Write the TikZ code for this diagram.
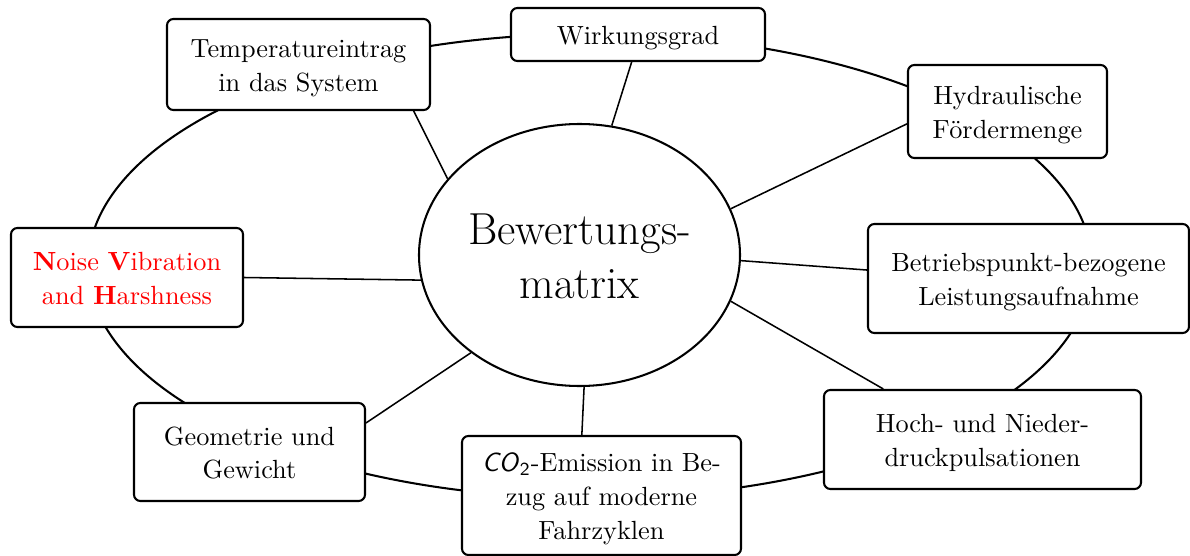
\documentclass[tikz,border=0pt]{standalone}
\usetikzlibrary{shapes.geometric}
\newcommand\boxtext[1]{\raisebox{-1.3pt}[\height][\depth]{\begin{tabular}{@{}c@{}}#1\end{tabular}}}
\begin{document}
\begin{tikzpicture}[x=0.39pt,y=-0.39pt,
  box/.style={draw, line width=0.8pt, rounded corners=2.5pt, fill=white, align=center, inner sep=0pt, font=\fontsize{10.25}{13.1}\selectfont},
  link/.style={line width=0.6pt},
  ring/.style={line width=0.8pt}]
\useasboundingbox (0,0) rectangle (1190,556);
\draw[ring] (590,266) ellipse [x radius=502, y radius=232];
\node[ellipse, draw, line width=0.8pt, fill=white, minimum width=125.19pt, minimum height=102.18pt, inner sep=0pt, font=\fontsize{17.5}{20.7}\selectfont] (M) at (579.5,255) {\raisebox{-2.3pt}[\height][\depth]{\begin{tabular}{@{}c@{}}Bewertungs-\\matrix\end{tabular}}};
\node[box, minimum width=102.57pt, minimum height=35.49pt] (T) at (298.5,64.5) {\boxtext{Temperatureintrag\\in das System}};
\node[box, minimum width=99.06pt, minimum height=20.67pt] (W) at (638,34.5) {\boxtext{Wirkungsgrad}};
\node[box, minimum width=77.61pt, minimum height=36.27pt] (H) at (1007.5,111.5) {\boxtext{Hydraulische\\F\"ordermenge}};
\node[box, minimum width=125.19pt, minimum height=42.51pt] (B) at (1028.5,278.5) {\boxtext{Betriebspunkt-bezogene\\Leistungsaufnahme}};
\node[box, minimum width=123.63pt, minimum height=38.61pt] (Ho) at (982.5,439.5) {\boxtext{Hoch- und Nieder-\\druckpulsationen}};
\node[box, minimum width=108.81pt, minimum height=46.41pt] (C) at (601.5,495.5) {\boxtext{\textsf{\textit{CO}}\textsubscript{\textsf{2}}-Emission in Be-\\zug auf moderne\\Fahrzyklen}};
\node[box, minimum width=90.09pt, minimum height=38.22pt] (G) at (249.5,452) {\boxtext{Geometrie und\\Gewicht}};
\node[box, minimum width=90.48pt, minimum height=38.61pt, text=red] (N) at (127,277.5) {\boxtext{\textbf{N}oise \textbf{V}ibration\\and \textbf{H}arshness}};
\draw[link] (M.150.5) -- (T.-22.8);
\draw[link] (M.76.8) -- (W.257.2);
\draw[link] (M.17) -- (H.187.7);
\draw[link] (M.-2.1) -- (B.177.3);
\draw[link] (M.-17.3) -- (Ho.153.3);
\draw[link] (M.-88.9) -- (C.108.1);
\draw[link] (M.222.1) -- (G.14.1);
\draw[link] (M.189.4) -- (N.-0.7);
\end{tikzpicture}
\end{document}
